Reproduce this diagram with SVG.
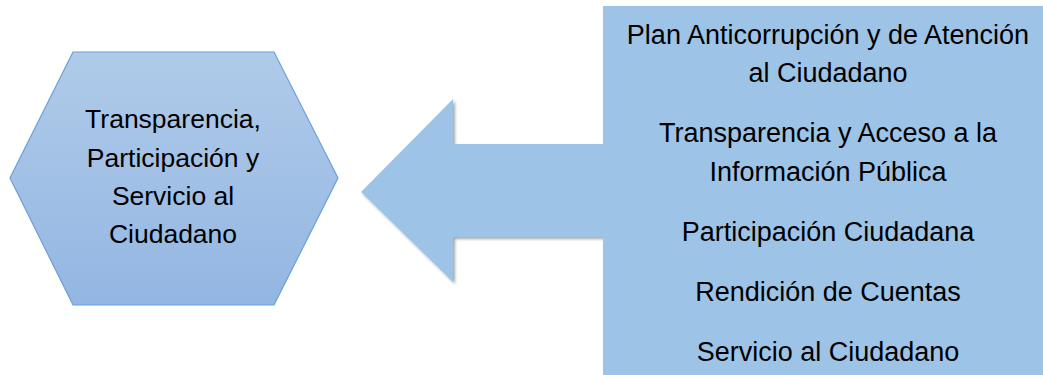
<svg xmlns="http://www.w3.org/2000/svg" width="1043" height="375" viewBox="0 0 1043 375">
<defs>
<linearGradient id="hexGrad" x1="0" y1="0" x2="0" y2="1">
<stop offset="0" stop-color="#b0cbe9"/>
<stop offset="1" stop-color="#93b6e2"/>
</linearGradient>
<filter id="shadow" x="-5%" y="-5%" width="110%" height="110%">
<feDropShadow dx="2" dy="2" stdDeviation="1.5" flood-color="#000" flood-opacity="0.35"/>
</filter>
</defs>
<style>
.t{font-family:"Liberation Sans",Arial,sans-serif;font-size:27px;fill:#000;text-anchor:middle}
.h{font-size:26.5px}
</style>
<rect width="1043" height="375" fill="#fff"/>
<g id="hexagon">
<polygon points="73,52 274,52 338,178 274,305 73,305 10,178" fill="url(#hexGrad)" stroke="#6b9fd8" stroke-width="1.2"/>
<text class="t h" x="173" y="128">Transparencia,</text>
<text class="t h" x="173" y="167">Participación y</text>
<text class="t h" x="173" y="205">Servicio al</text>
<text class="t h" x="173" y="243">Ciudadano</text>
</g>
<g id="connectors">
<path d="M603,6 H1045 V380 H603 V237 H453 V282 L361,192 L453,99 V144 H603 Z" fill="#9dc3e6" filter="url(#shadow)"/>
</g>
<g id="callout">
<text class="t" x="828" y="44">Plan Anticorrupción y de Atención</text>
<text class="t" x="828" y="82">al Ciudadano</text>
<text class="t" x="828" y="142">Transparencia y Acceso a la</text>
<text class="t" x="828" y="181">Información Pública</text>
<text class="t" x="828" y="241">Participación Ciudadana</text>
<text class="t" x="828" y="301">Rendición de Cuentas</text>
<text class="t" x="828" y="361">Servicio al Ciudadano</text>
</g>
</svg>
